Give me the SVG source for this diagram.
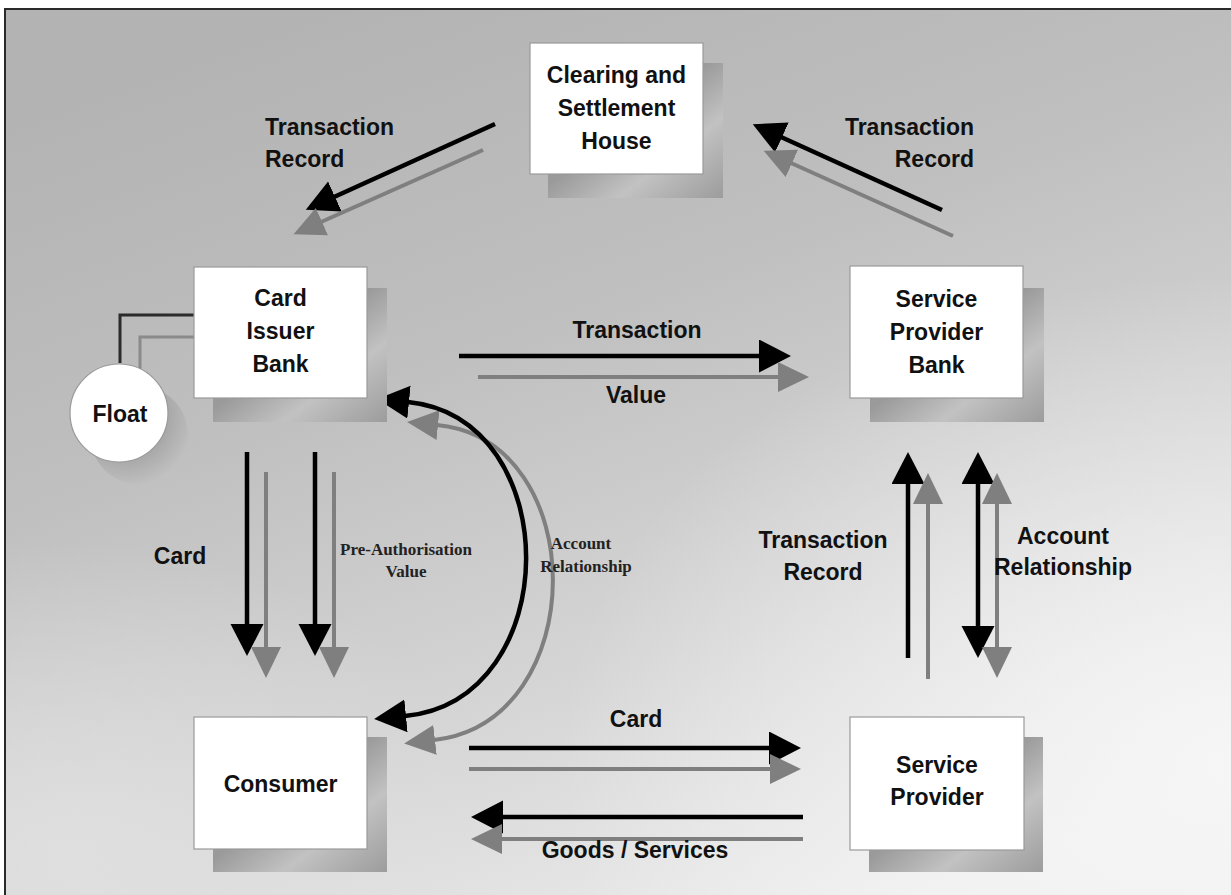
<svg xmlns="http://www.w3.org/2000/svg" width="1231" height="895" viewBox="0 0 1231 895">
<style>
.lbl{font-family:"Liberation Sans",Arial,sans-serif;font-weight:bold;font-size:23px;fill:#111}
.sm{font-family:"Liberation Serif","Times New Roman",serif;font-weight:bold;font-size:17px;fill:#222}
.box{fill:#fff;stroke:#9a9a9a;stroke-width:1.2}
.shd{fill:url(#shg)}
.blk{stroke:#000;stroke-width:4.5;fill:none}
.gry{stroke:#7f7f7f;stroke-width:4;fill:none}
.bh{marker-end:url(#hb)}
.gh{marker-end:url(#hg)}
.bd{marker-start:url(#hbs);marker-end:url(#hb)}
.gd{marker-start:url(#hgs);marker-end:url(#hg)}
</style>
<defs>
<linearGradient id="bg" x1="0.25" y1="0" x2="0.75" y2="1">
<stop offset="0" stop-color="#b3b3b3"/>
<stop offset="0.35" stop-color="#bfbfbf"/>
<stop offset="0.7" stop-color="#d6d6d6"/>
<stop offset="1" stop-color="#eeeeee"/>
</linearGradient>
<radialGradient id="lt" cx="1" cy="0.85" r="0.55">
<stop offset="0" stop-color="#f6f6f6" stop-opacity="0.95"/>
<stop offset="1" stop-color="#f6f6f6" stop-opacity="0"/>
</radialGradient>
<radialGradient id="lt2" cx="0.05" cy="0.95" r="0.35">
<stop offset="0" stop-color="#e2e2e2" stop-opacity="0.8"/>
<stop offset="1" stop-color="#e2e2e2" stop-opacity="0"/>
</radialGradient>
<linearGradient id="shg" x1="0" y1="0" x2="1" y2="1">
<stop offset="0" stop-color="#a4a4a4"/>
<stop offset="0.45" stop-color="#9a9a9a"/>
<stop offset="0.7" stop-color="#c2c2c2"/>
<stop offset="1" stop-color="#9c9c9c"/>
</linearGradient>
<radialGradient id="cshg" cx="0.35" cy="0.3" r="0.8">
<stop offset="0" stop-color="#808080"/>
<stop offset="0.6" stop-color="#ababab"/>
<stop offset="1" stop-color="#c6c6c6"/>
</radialGradient>
<marker id="hb" markerUnits="userSpaceOnUse" markerWidth="34" markerHeight="34" refX="1" refY="16.5" orient="auto">
<path d="M0,0 L32,16.5 L0,33 z" fill="#000"/>
</marker>
<marker id="hbs" markerUnits="userSpaceOnUse" markerWidth="34" markerHeight="34" refX="1" refY="16.5" orient="auto-start-reverse">
<path d="M0,0 L32,16.5 L0,33 z" fill="#000"/>
</marker>
<marker id="hg" markerUnits="userSpaceOnUse" markerWidth="33" markerHeight="32" refX="1" refY="15" orient="auto">
<path d="M0,0 L31,15 L0,30 z" fill="#7f7f7f"/>
</marker>
<marker id="hgs" markerUnits="userSpaceOnUse" markerWidth="33" markerHeight="32" refX="1" refY="15" orient="auto-start-reverse">
<path d="M0,0 L31,15 L0,30 z" fill="#7f7f7f"/>
</marker>
</defs>

<rect x="0" y="0" width="1231" height="895" fill="#fff"/>
<rect x="5" y="9" width="1226" height="886" fill="url(#bg)"/>
<rect x="5" y="9" width="1226" height="886" fill="url(#lt)"/>
<rect x="5" y="9" width="1226" height="886" fill="url(#lt2)"/>
<path d="M5,895 V9 H1231" fill="none" stroke="#2a2a2a" stroke-width="2"/>

<g id="connectors">
<path d="M120,363 V315 H194" fill="none" stroke="#2b2b2b" stroke-width="3"/>
<path d="M140,369 V337 H194" fill="none" stroke="#8a8a8a" stroke-width="3"/>
<line class="blk bh" x1="495" y1="124" x2="334" y2="197"/>
<line class="gry gh" x1="483" y1="150" x2="321" y2="222"/>
<line class="blk bh" x1="942" y1="210" x2="781" y2="137"/>
<line class="gry gh" x1="953" y1="236" x2="791" y2="163"/>
<line class="blk bh" x1="459" y1="356" x2="760" y2="356"/>
<line class="gry gh" x1="478" y1="377" x2="779" y2="377"/>
<line class="blk bh" x1="247" y1="452" x2="247" y2="625"/>
<line class="gry gh" x1="266" y1="472" x2="266" y2="648"/>
<line class="blk bh" x1="315" y1="452" x2="315" y2="625"/>
<line class="gry gh" x1="334" y1="472" x2="334" y2="648"/>
<path class="gry gd" d="M437,425 C592,440 592,722 434,740"/>
<path class="blk bd" d="M408,402 C566,418 566,700 405,716"/>
<line class="blk bh" x1="469" y1="748" x2="770" y2="748"/>
<line class="gry gh" x1="469" y1="769" x2="771" y2="769"/>
<line class="blk bh" x1="803" y1="817" x2="502" y2="817"/>
<line class="gry gh" x1="803" y1="839" x2="501" y2="839"/>
<line class="blk bh" x1="908" y1="658" x2="908" y2="483"/>
<line class="gry gh" x1="928" y1="679" x2="928" y2="503"/>
<line class="blk bd" x1="978" y1="483" x2="978" y2="627"/>
<line class="gry gd" x1="997" y1="503" x2="997" y2="648"/>
</g>

<g id="edge-labels">
<text class="lbl" x="265" y="135">Transaction</text>
<text class="lbl" x="265" y="167">Record</text>
<text class="lbl" x="974" y="135" text-anchor="end">Transaction</text>
<text class="lbl" x="974" y="167" text-anchor="end">Record</text>
<text class="lbl" x="637" y="338" text-anchor="middle">Transaction</text>
<text class="lbl" x="636" y="403" text-anchor="middle">Value</text>
<text class="lbl" x="180" y="564" text-anchor="middle">Card</text>
<text class="sm" x="406" y="555" text-anchor="middle">Pre-Authorisation</text>
<text class="sm" x="406" y="577" text-anchor="middle">Value</text>
<text class="sm" x="581" y="549" text-anchor="middle">Account</text>
<text class="sm" x="586" y="572" text-anchor="middle">Relationship</text>
<text class="lbl" x="823" y="548" text-anchor="middle">Transaction</text>
<text class="lbl" x="823" y="580" text-anchor="middle">Record</text>
<text class="lbl" x="1063" y="544" text-anchor="middle">Account</text>
<text class="lbl" x="1063" y="575" text-anchor="middle">Relationship</text>
<text class="lbl" x="636" y="727" text-anchor="middle">Card</text>
<text class="lbl" x="635" y="858" text-anchor="middle">Goods / Services</text>
</g>

<g id="clearing">
<rect class="shd" x="548" y="63" width="175" height="135"/>
<rect class="box" x="530" y="43" width="173" height="131"/>
<text class="lbl" x="616.5" y="83" text-anchor="middle">Clearing and</text>
<text class="lbl" x="616.5" y="116" text-anchor="middle">Settlement</text>
<text class="lbl" x="616.5" y="149" text-anchor="middle">House</text>
</g>

<g id="card-issuer-bank">
<rect class="shd" x="213" y="288" width="174" height="134"/>
<rect class="box" x="194" y="267" width="173" height="131"/>
<text class="lbl" x="280.5" y="306" text-anchor="middle">Card</text>
<text class="lbl" x="280.5" y="339" text-anchor="middle">Issuer</text>
<text class="lbl" x="280.5" y="372" text-anchor="middle">Bank</text>
</g>

<g id="float">
<circle cx="139" cy="435" r="49" fill="url(#cshg)"/>
<circle cx="119" cy="413" r="49" fill="#fff" stroke="#9a9a9a" stroke-width="1.2"/>
<text class="lbl" x="120" y="422" text-anchor="middle">Float</text>
</g>

<g id="service-provider-bank">
<rect class="shd" x="870" y="288" width="174" height="134"/>
<rect class="box" x="850" y="266" width="173" height="132"/>
<text class="lbl" x="936.5" y="307" text-anchor="middle">Service</text>
<text class="lbl" x="936.5" y="340" text-anchor="middle">Provider</text>
<text class="lbl" x="936.5" y="373" text-anchor="middle">Bank</text>
</g>

<g id="consumer">
<rect class="shd" x="213" y="737" width="174" height="135"/>
<rect class="box" x="194" y="717" width="173" height="132"/>
<text class="lbl" x="280.5" y="792" text-anchor="middle">Consumer</text>
</g>

<g id="service-provider">
<rect class="shd" x="869" y="737" width="174" height="135"/>
<rect class="box" x="850" y="717" width="174" height="133"/>
<text class="lbl" x="937" y="773" text-anchor="middle">Service</text>
<text class="lbl" x="937" y="805" text-anchor="middle">Provider</text>
</g>
</svg>
